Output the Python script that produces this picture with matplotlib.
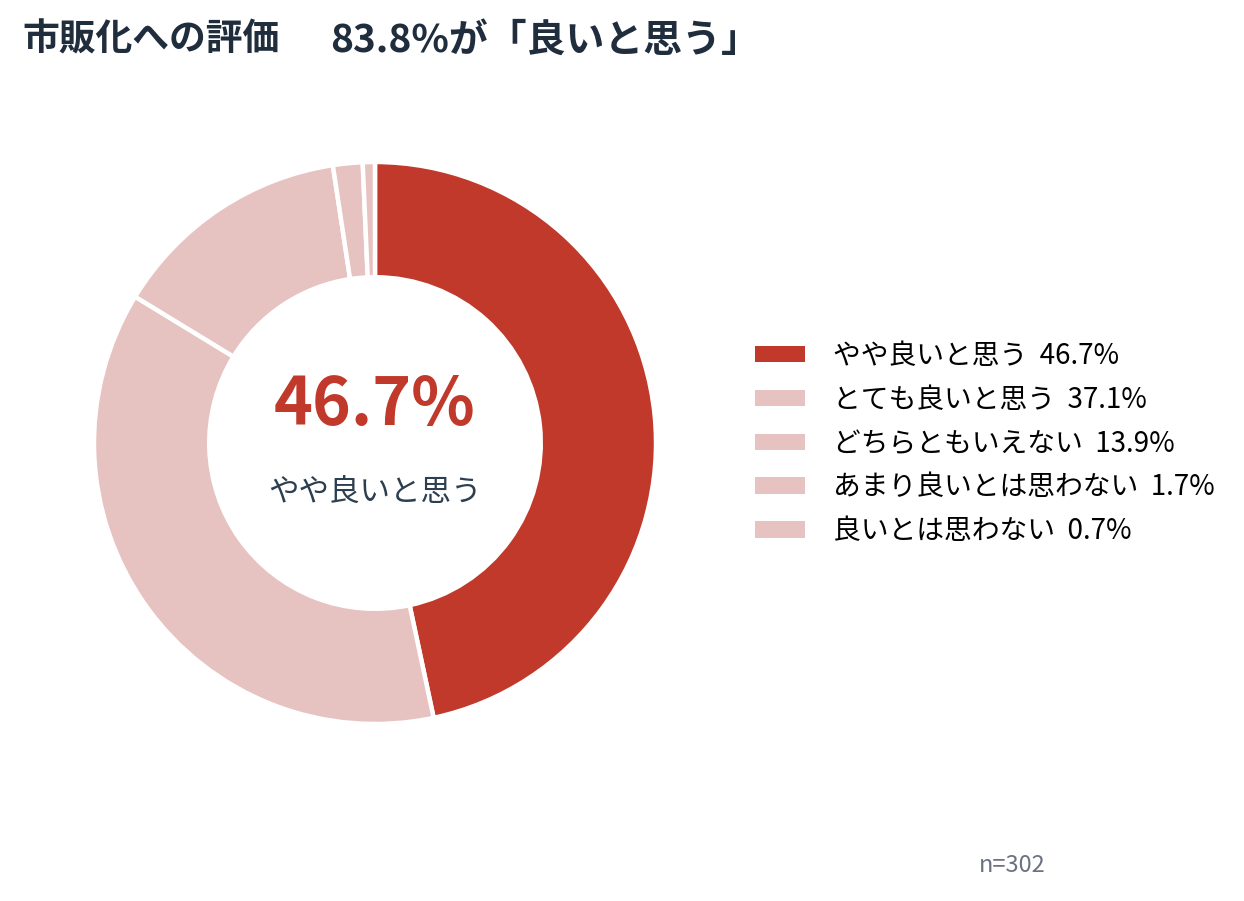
import matplotlib.pyplot as plt
from matplotlib.patches import Patch

plt.rcParams['font.family'] = ['Noto Sans CJK JP', 'DejaVu Sans']

labels = ["やや良いと思う", "とても良いと思う", "どちらともいえない", "あまり良いとは思わない", "良いとは思わない"]
values = [46.7, 37.1, 13.9, 1.7, 0.7]
colors = ["#c0392b", "#e6c3c0", "#e6c3c0", "#e6c3c0", "#e6c3c0"]
title_a = "市販化への評価"
title_b = "83.8%が「良いと思う」"
n_text = "n=302"

W, H = 1244, 901
fig = plt.figure(figsize=(W / 100, H / 100), dpi=100)
fig.patch.set_facecolor("white")

# donut axes, square
cx, cy, r = 375, 443, 281
ax = fig.add_axes([(cx - r) / W, (H - cy - r) / H, 2 * r / W, 2 * r / H])
ax.pie(values, colors=colors, startangle=90, counterclock=False, radius=1,
       wedgeprops=dict(width=0.41, edgecolor="white", linewidth=3.2))
ax.set_xlim(-1, 1)
ax.set_ylim(-1, 1)
ax.set_aspect("equal")
ax.axis("off")

ax.text(0, 0.135, f"{values[0]}%", ha="center", va="center",
        fontsize=47.5, fontweight="bold", color="#c0392b")
ax.text(0, -0.175, labels[0], ha="center", va="center",
        fontsize=22, color="#2c3e50")

handles = [Patch(facecolor=c, edgecolor="none") for c in colors]
leg_labels = [f"{l}  {v}%" for l, v in zip(labels, values)]
fig.legend(handles, leg_labels, loc="center left",
           bbox_to_anchor=(755 / W, 1 - 443.5 / H), frameon=False,
           fontsize=20, handlelength=1.8, handleheight=0.52,
           handletextpad=1.0, labelspacing=0.5, borderpad=0,
           borderaxespad=0)

# title in two parts, gap as in the original
fig.text(22 / W, 1 - 40 / H, title_a, ha="left", va="center",
         fontsize=26.5, fontweight="bold", color="#1f2d3d")
fig.text(330 / W, 1 - 40 / H, title_b, ha="left", va="center",
         fontsize=28, fontweight="bold", color="#1f2d3d")
fig.text(1012 / W, 1 - 866 / H, n_text, ha="center", va="center",
         fontsize=17, color="#6b7280")

fig.savefig("out.png", dpi=100, facecolor="white")
